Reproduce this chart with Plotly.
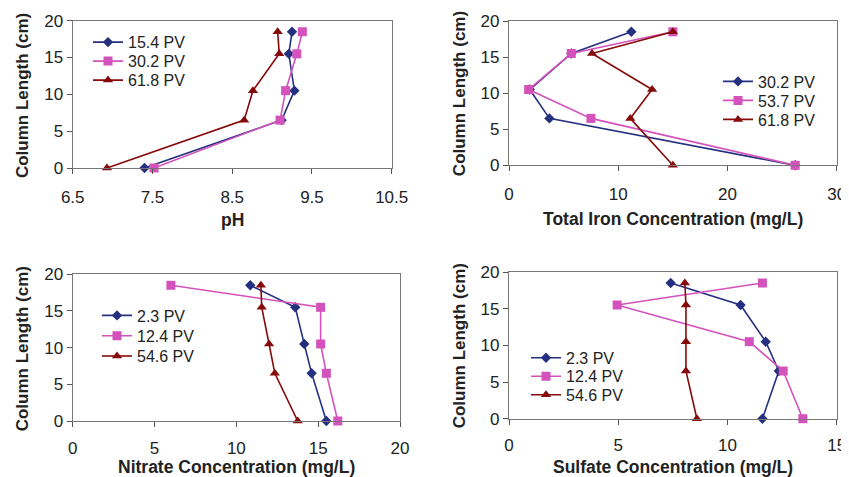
import plotly.graph_objects as go

# ---------------- data ----------------
depth = [0, 6.5, 10.5, 15.5, 18.5]

ph_names = ["15.4 PV", "30.2 PV", "61.8 PV"]
ph_15_4 = [7.40, 9.12, 9.28, 9.21, 9.25]
ph_30_2 = [7.52, 9.10, 9.17, 9.31, 9.38]
ph_61_8 = [6.93, 8.65, 8.76, 9.09, 9.07]

fe_names = ["30.2 PV", "53.7 PV", "61.8 PV"]
fe_30_2 = [26.2, 3.7, 1.9, 5.7, 11.2]
fe_53_7 = [26.2, 7.5, 1.8, 5.7, 15.0]
fe_61_8 = [15.0, 11.1, 13.1, 7.6, 15.0]

no3_names = ["2.3 PV", "12.4 PV", "54.6 PV"]
no3_2_3 = [15.5, 14.6, 14.15, 13.6, 10.85]
no3_12_4 = [16.2, 15.5, 15.15, 15.15, 6.0]
no3_54_6 = [13.75, 12.35, 12.0, 11.55, 11.5]

so4_names = ["2.3 PV", "12.4 PV", "54.6 PV"]
so4_2_3 = [11.6, 12.35, 11.75, 10.6, 7.4]
so4_12_4 = [13.45, 12.55, 11.0, 4.95, 11.6]
so4_54_6 = [8.6, 8.1, 8.1, 8.1, 8.05]

x_titles = ["pH", "Total Iron Concentration (mg/L)",
            "Nitrate Concentration (mg/L)", "Sulfate Concentration (mg/L)"]
y_title = "Column Length (cm)"

# ---------------- styling ----------------
OFF = 8                      # page body margin of the html page
W, H = 849 - OFF, 477 - OFF  # figure size so it fills the window
FONT = "Arial, Liberation Sans, sans-serif"
colors = ["#25307F", "#D452BC", "#860A0A"]
symbols = ["diamond", "square", "triangle-up"]
msizes = [8, 9, 9]

def px_x(p):
    return (p - OFF) / W

def px_y(p):
    return 1 - (p - OFF) / H

# plot area boxes in window pixels: (left, right, top, bottom)
boxes = [
    (72.7, 391.7, 20.7, 168.0),
    (509.0, 836.7, 21.0, 165.3),
    (72.7, 400.0, 274.3, 421.0),
    (509.0, 836.7, 272.0, 418.7),
]
title_gap = [52, 54, 46, 48]
tick_standoff = [8, 8, 6, 6]
xranges = [[6.5, 10.5], [0, 30], [0, 20], [0, 15]]
xticks = [[6.5, 7.5, 8.5, 9.5, 10.5], [0, 10, 20, 30], [0, 5, 10, 15, 20], [0, 5, 10, 15]]
# legend entries: (text start x px, first entry center y px, spacing px)
legpos = [(128, 41.7, 19), (758, 81, 19), (137, 315, 20.3), (566, 357.3, 18.5)]

panels = [
    (ph_names, [ph_15_4, ph_30_2, ph_61_8]),
    (fe_names, [fe_30_2, fe_53_7, fe_61_8]),
    (no3_names, [no3_2_3, no3_12_4, no3_54_6]),
    (so4_names, [so4_2_3, so4_12_4, so4_54_6]),
]

fig = go.Figure()
layout = dict(
    width=W, height=H,
    margin=dict(l=0, r=0, t=0, b=0, autoexpand=False),
    paper_bgcolor="white", plot_bgcolor="white",
    showlegend=True,
    font=dict(family=FONT, size=15, color="#222222"),
    annotations=[],
)

n_leg = 0
for i, (names, series) in enumerate(panels):
    k = i + 1
    xa = "x" if k == 1 else f"x{k}"
    ya = "y" if k == 1 else f"y{k}"
    tx, ly0, dy = legpos[i]
    for j, (nm, vals) in enumerate(zip(names, series)):
        n_leg += 1
        lg = "legend" if n_leg == 1 else f"legend{n_leg}"
        fig.add_trace(go.Scatter(
            x=vals, y=depth, name=nm, mode="lines+markers",
            xaxis=xa, yaxis=ya, legend=lg, cliponaxis=False, showlegend=True,
            line=dict(color=colors[j], width=1.6),
            marker=dict(symbol=symbols[j], size=msizes[j], color=colors[j],
                        line=dict(width=0)),
        ))
        cy = ly0 + j * dy
        layout[lg] = dict(x=px_x(tx - 40), y=px_y(cy - 16.5), xanchor="left",
                          yanchor="top", bgcolor="rgba(0,0,0,0)", borderwidth=0,
                          visible=True,
                          font=dict(family=FONT, size=16, color="#222222"))
    l, r, t, b = boxes[i]
    axkey = "xaxis" if k == 1 else f"xaxis{k}"
    aykey = "yaxis" if k == 1 else f"yaxis{k}"
    common = dict(showline=True, mirror=True, linecolor="#777777", linewidth=1.3,
                  showgrid=False, zeroline=False, ticks="outside", ticklen=5,
                  tickcolor="#555555", tickwidth=1, automargin=False,
                  tickfont=dict(family=FONT, size=17, color="#222222"))
    layout[axkey] = dict(domain=[px_x(l), px_x(r)], range=xranges[i],
                         tickvals=xticks[i], anchor=ya,
                         ticklabelstandoff=tick_standoff[i], **common)
    layout[aykey] = dict(domain=[px_y(b), px_y(t)], range=[0, 20],
                         tickvals=[0, 5, 10, 15, 20], anchor=xa, **common)
    # axis titles
    layout["annotations"].append(dict(
        text=f"<b>{x_titles[i]}</b>", xref="paper", yref="paper",
        x=px_x((l + r) / 2), y=px_y(b + title_gap[i]), xanchor="center",
        yanchor="middle", showarrow=False,
        font=dict(family=FONT, size=17.5, color="#222222")))
    layout["annotations"].append(dict(
        text=f"<b>{y_title}</b>", xref="paper", yref="paper",
        x=px_x(l - 50), y=px_y((t + b) / 2 + 1), xanchor="center", yanchor="middle",
        textangle=-90, showarrow=False,
        font=dict(family=FONT, size=17, color="#222222")))

fig.update_layout(**layout)
fig.write_html("out.html")
